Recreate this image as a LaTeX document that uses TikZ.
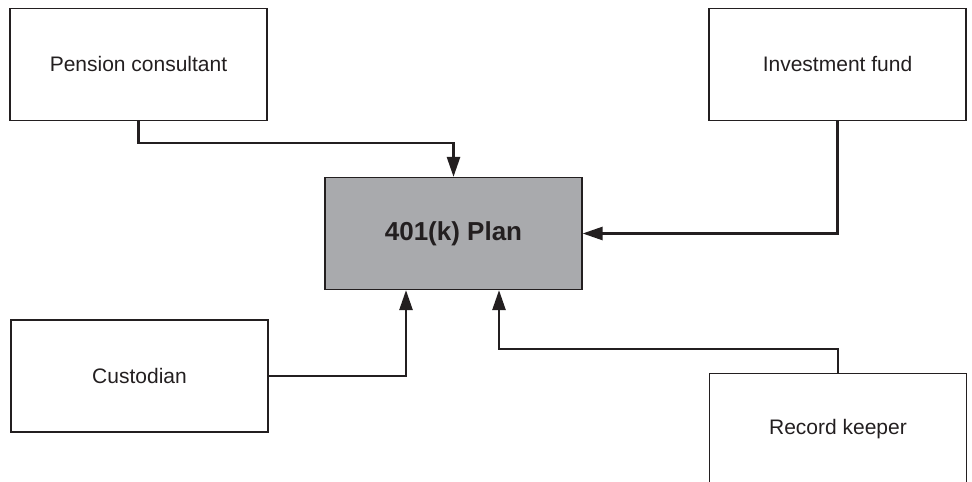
\documentclass[tikz,border=0pt]{standalone}
\usepackage{fontspec}
\setmainfont{Liberation Sans}
\usepackage{xcolor}
\usepackage{tikz}
\usetikzlibrary{positioning, arrows.meta}

\definecolor{ink}{HTML}{231F20}
\definecolor{plangray}{HTML}{A9AAAD}

\tikzset{
  party/.style={draw=ink, line width=0.6pt, minimum width=128.5pt, minimum height=56pt,
    inner sep=0pt, text=ink, font=\fontsize{10.5}{12}\selectfont},
  plan/.style={party, fill=plangray, font=\fontsize{13}{15}\selectfont\bfseries},
  link/.style={draw=ink, line width=1.3pt, -{Triangle[length=10pt, width=6.5pt]}}
}

\begin{document}
\begin{tikzpicture}[x=0.5pt, y=0.5pt]
\path[use as bounding box, clip] (0,0) rectangle (972,481);

\node[plan] (plan) at (453.5,247.5) {401(k) Plan};
\node[party] (consultant) at (138.5,416.5) {Pension consultant};
\node[party] (fund) at (837.5,416.5) {Investment fund};
\node[party] (custodian) at (139.5,105) {Custodian};
\node[party] (keeper) at (838,51.5) {Record keeper};

\draw[link] (consultant.south) -- ++(0,-22) -| (plan.north);
\draw[link] (fund.south) |- (plan.east);
\draw[link] (custodian.east) -| ([xshift=-23.75pt]plan.south);
\draw[link] (keeper.north) -- ++(0,24) -| ([xshift=22.75pt]plan.south);
\end{tikzpicture}
\end{document}
